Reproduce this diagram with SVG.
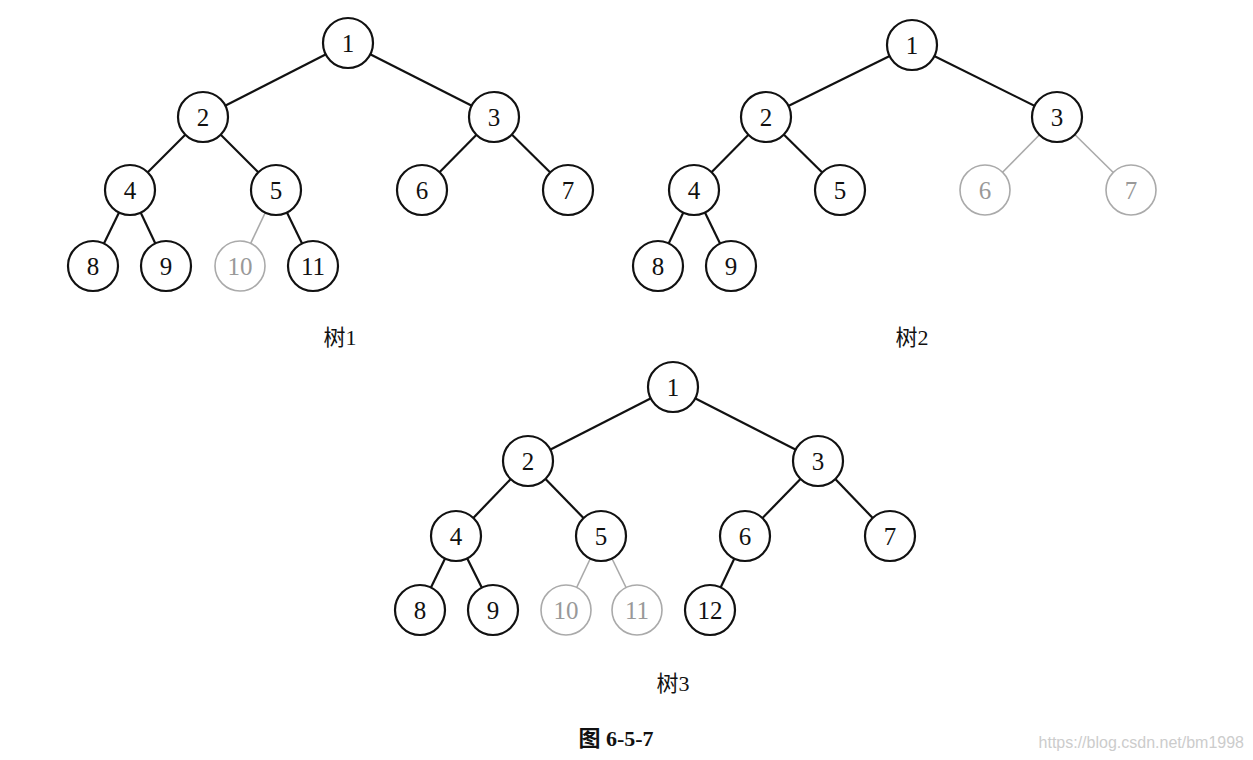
<svg xmlns="http://www.w3.org/2000/svg" width="1253" height="760" viewBox="0 0 1253 760">
<style>
.e{stroke:#111;stroke-width:2.2;fill:none}
.eg{stroke:#aaa;stroke-width:1.6;fill:none}
.n circle{fill:#fff;stroke:#111;stroke-width:2.2}
.g circle{fill:#fff;stroke:#aaa;stroke-width:1.6}
text{font-family:"Liberation Serif","Times New Roman",serif;font-size:25px;text-anchor:middle;dominant-baseline:central}
.n text{fill:#111}
.g text{fill:#999}
.lab{font-family:"Liberation Serif","Noto Sans CJK SC",serif;font-size:22px;fill:#111}
.wm{font-family:"Liberation Sans",sans-serif;font-size:16px;fill:#ccc;text-anchor:end}
</style>
<rect width="1253" height="760" fill="#fff"/>
<g id="connectors">
<!-- tree 1 -->
<line class="e" x1="348" y1="43" x2="203" y2="117"/>
<line class="e" x1="348" y1="43" x2="494" y2="117"/>
<line class="e" x1="203" y1="117" x2="130" y2="190"/>
<line class="e" x1="203" y1="117" x2="276" y2="190"/>
<line class="e" x1="494" y1="117" x2="422" y2="190"/>
<line class="e" x1="494" y1="117" x2="568" y2="190"/>
<line class="e" x1="130" y1="190" x2="93" y2="266"/>
<line class="e" x1="130" y1="190" x2="166" y2="266"/>
<line class="eg" x1="276" y1="190" x2="240" y2="266"/>
<line class="e" x1="276" y1="190" x2="313" y2="266"/>
<!-- tree 2 -->
<line class="e" x1="912" y1="45" x2="766" y2="117"/>
<line class="e" x1="912" y1="45" x2="1057" y2="117"/>
<line class="e" x1="766" y1="117" x2="694" y2="190"/>
<line class="e" x1="766" y1="117" x2="840" y2="190"/>
<line class="eg" x1="1057" y1="117" x2="985" y2="190"/>
<line class="eg" x1="1057" y1="117" x2="1131" y2="190"/>
<line class="e" x1="694" y1="190" x2="658" y2="266"/>
<line class="e" x1="694" y1="190" x2="731" y2="266"/>
<!-- tree 3 -->
<line class="e" x1="673" y1="387" x2="528" y2="461"/>
<line class="e" x1="673" y1="387" x2="818" y2="461"/>
<line class="e" x1="528" y1="461" x2="456" y2="536"/>
<line class="e" x1="528" y1="461" x2="601" y2="536"/>
<line class="e" x1="818" y1="461" x2="745" y2="536"/>
<line class="e" x1="818" y1="461" x2="890" y2="536"/>
<line class="e" x1="456" y1="536" x2="420" y2="610"/>
<line class="e" x1="456" y1="536" x2="493" y2="610"/>
<line class="eg" x1="601" y1="536" x2="566" y2="610"/>
<line class="eg" x1="601" y1="536" x2="637" y2="610"/>
<line class="e" x1="745" y1="536" x2="710" y2="610"/>
</g>
<!-- tree 1 nodes -->
<g id="t1n1" class="n"><circle cx="348" cy="43" r="25"/><text x="348" y="43">1</text></g>
<g id="t1n2" class="n"><circle cx="203" cy="117" r="25"/><text x="203" y="117">2</text></g>
<g id="t1n3" class="n"><circle cx="494" cy="117" r="25"/><text x="494" y="117">3</text></g>
<g id="t1n4" class="n"><circle cx="130" cy="190" r="25"/><text x="130" y="190">4</text></g>
<g id="t1n5" class="n"><circle cx="276" cy="190" r="25"/><text x="276" y="190">5</text></g>
<g id="t1n6" class="n"><circle cx="422" cy="190" r="25"/><text x="422" y="190">6</text></g>
<g id="t1n7" class="n"><circle cx="568" cy="190" r="25"/><text x="568" y="190">7</text></g>
<g id="t1n8" class="n"><circle cx="93" cy="266" r="25"/><text x="93" y="266">8</text></g>
<g id="t1n9" class="n"><circle cx="166" cy="266" r="25"/><text x="166" y="266">9</text></g>
<g id="t1n10" class="g"><circle cx="240" cy="266" r="25"/><text x="240" y="266">10</text></g>
<g id="t1n11" class="n"><circle cx="313" cy="266" r="25"/><text x="313" y="266">11</text></g>
<text id="label1" class="lab" x="340" y="337">树1</text>
<!-- tree 2 nodes -->
<g id="t2n1" class="n"><circle cx="912" cy="45" r="25"/><text x="912" y="45">1</text></g>
<g id="t2n2" class="n"><circle cx="766" cy="117" r="25"/><text x="766" y="117">2</text></g>
<g id="t2n3" class="n"><circle cx="1057" cy="117" r="25"/><text x="1057" y="117">3</text></g>
<g id="t2n4" class="n"><circle cx="694" cy="190" r="25"/><text x="694" y="190">4</text></g>
<g id="t2n5" class="n"><circle cx="840" cy="190" r="25"/><text x="840" y="190">5</text></g>
<g id="t2n6" class="g"><circle cx="985" cy="190" r="25"/><text x="985" y="190">6</text></g>
<g id="t2n7" class="g"><circle cx="1131" cy="190" r="25"/><text x="1131" y="190">7</text></g>
<g id="t2n8" class="n"><circle cx="658" cy="266" r="25"/><text x="658" y="266">8</text></g>
<g id="t2n9" class="n"><circle cx="731" cy="266" r="25"/><text x="731" y="266">9</text></g>
<text id="label2" class="lab" x="912" y="337">树2</text>
<!-- tree 3 nodes -->
<g id="t3n1" class="n"><circle cx="673" cy="387" r="25"/><text x="673" y="387">1</text></g>
<g id="t3n2" class="n"><circle cx="528" cy="461" r="25"/><text x="528" y="461">2</text></g>
<g id="t3n3" class="n"><circle cx="818" cy="461" r="25"/><text x="818" y="461">3</text></g>
<g id="t3n4" class="n"><circle cx="456" cy="536" r="25"/><text x="456" y="536">4</text></g>
<g id="t3n5" class="n"><circle cx="601" cy="536" r="25"/><text x="601" y="536">5</text></g>
<g id="t3n6" class="n"><circle cx="745" cy="536" r="25"/><text x="745" y="536">6</text></g>
<g id="t3n7" class="n"><circle cx="890" cy="536" r="25"/><text x="890" y="536">7</text></g>
<g id="t3n8" class="n"><circle cx="420" cy="610" r="25"/><text x="420" y="610">8</text></g>
<g id="t3n9" class="n"><circle cx="493" cy="610" r="25"/><text x="493" y="610">9</text></g>
<g id="t3n10" class="g"><circle cx="566" cy="610" r="25"/><text x="566" y="610">10</text></g>
<g id="t3n11" class="g"><circle cx="637" cy="610" r="25"/><text x="637" y="610">11</text></g>
<g id="t3n12" class="n"><circle cx="710" cy="610" r="25"/><text x="710" y="610">12</text></g>
<text id="label3" class="lab" x="673" y="683">树3</text>
<text id="caption" class="lab" x="616" y="738" style="font-weight:bold">图 6-5-7</text>
<text id="watermark" class="wm" x="1244" y="742">https://blog.csdn.net/bm1998</text>
</svg>
